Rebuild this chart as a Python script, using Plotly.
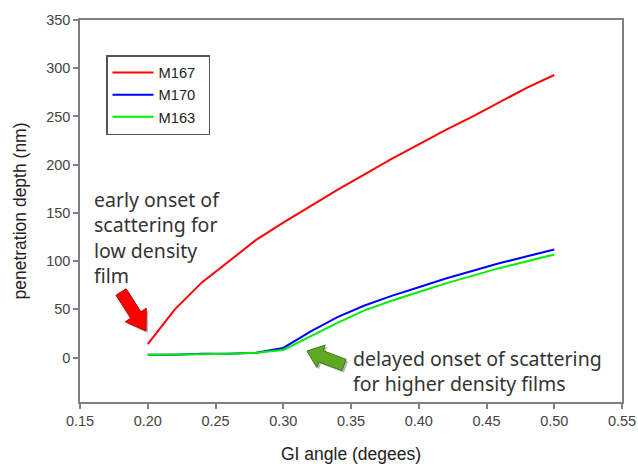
import plotly.graph_objects as go
import math

angle = [0.20, 0.22, 0.24, 0.26, 0.28, 0.30, 0.32, 0.34, 0.36, 0.38, 0.40, 0.42, 0.44, 0.46, 0.48, 0.50]
m167 = [14, 50, 78, 100, 122, 140, 157, 174, 190, 206, 221, 236, 250, 265, 280, 293]
m170 = [3, 3, 4, 4, 5, 10, 27, 42, 54, 64, 73, 82, 90, 98, 105, 112]
m163 = [3, 3, 3.5, 4, 5, 8, 22, 36, 49, 59, 68, 77, 85, 93, 100, 107]

series = [("M167", m167, "#ff0000"), ("M170", m170, "#0000ff"), ("M163", m163, "#00ee00")]

W, H = 638, 464
L, R, T, B = 80, 16, 20, 62
PW, PH = W - L - R, H - T - B

fig = go.Figure()
for name, vals, col in series:
    fig.add_trace(go.Scatter(x=angle, y=vals, mode="lines", name=name + "\u00a0" * 2,
                             line=dict(color=col, width=2)))

def to_paper(px, py):
    return (px - L) / PW, (H - B - py) / PH

def arrow_path(tail, tip, shaft_w, head_w, head_len, dx=0, dy=0):
    tx, ty = tail[0] + dx, tail[1] + dy
    hx, hy = tip[0] + dx, tip[1] + dy
    ln = math.hypot(hx - tx, hy - ty)
    ux, uy = (hx - tx) / ln, (hy - ty) / ln
    nx, ny = -uy, ux
    bx, by = hx - ux * head_len, hy - uy * head_len
    pts = [
        (tx + nx * shaft_w / 2, ty + ny * shaft_w / 2),
        (bx + nx * shaft_w / 2, by + ny * shaft_w / 2),
        (bx + nx * head_w / 2, by + ny * head_w / 2),
        (hx, hy),
        (bx - nx * head_w / 2, by - ny * head_w / 2),
        (bx - nx * shaft_w / 2, by - ny * shaft_w / 2),
        (tx - nx * shaft_w / 2, ty - ny * shaft_w / 2),
    ]
    s = ""
    for i, (x, y) in enumerate(pts):
        px, py = to_paper(x, y)
        s += ("M" if i == 0 else "L") + f"{px:.5f},{py:.5f} "
    return s + "Z"

arrows = [
    ((121, 292), (146, 331), 12, 25, 19, "#ff0000", "#c00000"),
    ((344, 365), (307, 351), 12, 24, 15, "#5fa823", "#3d7a12"),
]
for tail, tip, sw, hw, hl, fill, edge in arrows:
    fig.add_shape(type="path", xref="paper", yref="paper",
                  path=arrow_path(tail, tip, sw, hw, hl, 2, 2),
                  fillcolor="rgba(90,90,90,0.45)", line=dict(width=0))
    fig.add_shape(type="path", xref="paper", yref="paper",
                  path=arrow_path(tail, tip, sw, hw, hl),
                  fillcolor=fill, line=dict(color=edge, width=1))

txt_font = dict(family="Noto Sans", size=19.5, color="#333333")
x0, y0 = to_paper(92, 184)
fig.add_annotation(xref="paper", yref="paper", x=x0, y=y0, xanchor="left", yanchor="top",
                   text="early onset of<br>scattering for<br>low density<br>film",
                   showarrow=False, align="left", font=txt_font)
x1, y1 = to_paper(351, 343)
fig.add_annotation(xref="paper", yref="paper", x=x1, y=y1, xanchor="left", yanchor="top",
                   text="delayed onset of scattering<br>for higher density films",
                   showarrow=False, align="left", font=txt_font)

axis_common = dict(showline=True, linecolor="#808080", linewidth=1.5, mirror=True,
                   ticks="outside", ticklen=5, tickcolor="#808080", tickwidth=1.5,
                   showgrid=False, zeroline=False, automargin=False,
                   tickfont=dict(family="Liberation Sans, Arial", size=14.5, color="#444444"),
                   title_font=dict(family="Liberation Sans, Arial", size=17.5, color="#222222"))

fig.update_xaxes(range=[0.15, 0.55], dtick=0.05, tick0=0.15, tickformat=".2f",
                 title_text="GI angle (degees)", title_standoff=21, **axis_common)
fig.update_yaxes(range=[-46, 350], dtick=50, tick0=0,
                 title_text="penetration depth (nm)", title_standoff=15, **axis_common)

lx, ly = to_paper(106, 55)
fig.update_layout(
    width=W, height=H,
    margin=dict(l=L, r=R, t=T, b=B),
    paper_bgcolor="white", plot_bgcolor="white",
    showlegend=True,
    legend=dict(x=lx, y=ly, xanchor="left", yanchor="top",
                bordercolor="#555555", borderwidth=1.5, bgcolor="white",
                font=dict(family="Liberation Sans, Arial", size=14.7, color="#222222"),
                tracegroupgap=0, itemwidth=41),
)

fig.write_html("out.html", config={"displayModeBar": False},
               post_script="document.body.style.margin='0';document.body.style.overflow='hidden';")
